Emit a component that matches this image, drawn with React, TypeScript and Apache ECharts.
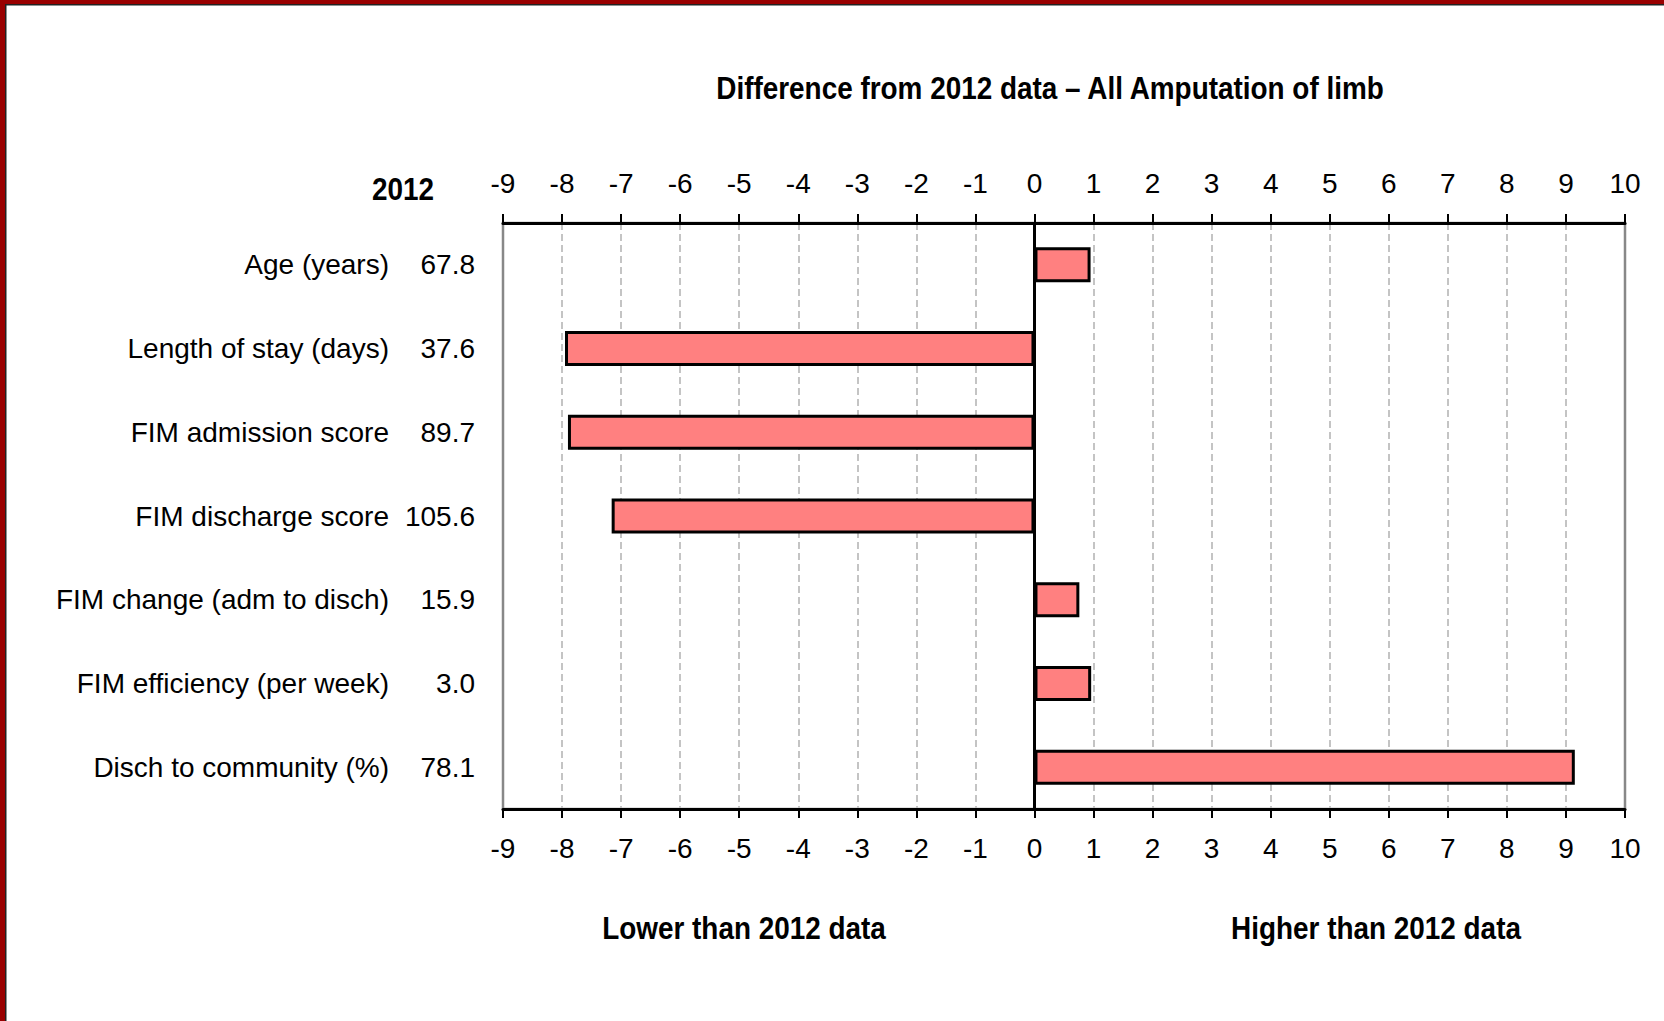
import React, { useEffect, useRef } from "react";
import * as echarts from "echarts";

const titleText = "Difference from 2012 data \u2013 All Amputation of limb";
const headerText = "2012";
const lowerText = "Lower than 2012 data";
const higherText = "Higher than 2012 data";

const categories = [
  "Age (years)",
  "Length of stay (days)",
  "FIM admission score",
  "FIM discharge score",
  "FIM change (adm to disch)",
  "FIM efficiency (per week)",
  "Disch to community (%)",
];
const values2012 = ["67.8", "37.6", "89.7", "105.6", "15.9", "3.0", "78.1"];
const differences = [0.95, -7.95, -7.9, -7.16, 0.76, 0.96, 9.15];

const axisMin = -9;
const axisMax = 10;
const axisStep = 1;

const FONT = '"Liberation Sans", Arial, sans-serif';

export default function App() {
  const ref = useRef<HTMLDivElement>(null);

  useEffect(() => {
    document.body.style.margin = "0";
    if (!ref.current) return;
    const chart = echarts.init(ref.current, null, { renderer: "svg" });

    const xAxisBase = {
      type: "value" as const,
      min: axisMin,
      max: axisMax,
      interval: axisStep,
      axisLine: { show: true, onZero: false, lineStyle: { color: "#000", width: 3 } },
      axisTick: { show: true, inside: false, length: 9, lineStyle: { color: "#000", width: 2 } },
      axisLabel: { color: "#000", fontSize: 28, fontFamily: FONT, margin: 26 },
    };

    const boldText = (text: string, x: number, y: number, align: string) => ({
      type: "text",
      x,
      y,
      scaleX: 0.9,
      style: {
        text,
        fontSize: 31,
        fontWeight: "bold",
        fontFamily: FONT,
        fill: "#000",
        align,
        verticalAlign: "middle",
      },
    });

    chart.setOption({
      animation: false,
      backgroundColor: "#fff",
      textStyle: { fontFamily: FONT },
      grid: {
        left: 503,
        right: 39,
        top: 223,
        bottom: 212,
        show: true,
        borderColor: "#888888",
        borderWidth: 2.5,
        backgroundColor: "transparent",
        containLabel: false,
      },
      xAxis: [
        {
          ...xAxisBase,
          position: "top",
          splitLine: { show: false },
        },
        {
          ...xAxisBase,
          position: "bottom",
          axisLabel: { ...xAxisBase.axisLabel, margin: 25 },
          splitLine: {
            show: true,
            showMinLine: false,
            showMaxLine: false,
            lineStyle: { color: "#c4c4c4", width: 2, type: [7, 4] },
          },
        },
      ],
      yAxis: {
        type: "category",
        data: categories,
        inverse: true,
        axisLine: { show: false },
        axisTick: { show: false },
        splitLine: { show: false },
        axisLabel: {
          margin: 28,
          formatter: (value: string, index: number) => `{n|${value}}{v|${values2012[index]}}`,
          rich: {
            n: { width: 390, align: "right", fontSize: 28, fontFamily: FONT, color: "#000" },
            v: { width: 86, align: "right", fontSize: 28, fontFamily: FONT, color: "#000" },
          },
        },
      },
      series: [
        {
          type: "bar",
          xAxisIndex: 1,
          data: differences,
          barWidth: 35,
          itemStyle: { color: "#FF8080", borderColor: "#000", borderWidth: 3 },
          markLine: {
            silent: true,
            symbol: ["none", "none"],
            label: { show: false },
            lineStyle: { color: "#000", width: 3, type: "solid" },
            data: [{ xAxis: 0 }],
          },
        },
      ],
      graphic: [
        { type: "rect", shape: { x: 0, y: 0, width: 1664, height: 4 }, style: { fill: "#990000" }, z: 100 },
        { type: "rect", shape: { x: 0, y: 0, width: 5, height: 1021 }, style: { fill: "#990000" }, z: 100 },
        { type: "rect", shape: { x: 5, y: 4, width: 1659, height: 1.5 }, style: { fill: "#222" }, z: 100 },
        { type: "rect", shape: { x: 5, y: 4, width: 1.5, height: 1017 }, style: { fill: "#222" }, z: 100 },
        boldText(titleText, 1050, 88, "center"),
        boldText(headerText, 434, 189, "right"),
        boldText(lowerText, 744, 928, "center"),
        boldText(higherText, 1376, 928, "center"),
      ],
    });

    return () => chart.dispose();
  }, []);

  return <div ref={ref} style={{ width: 1664, height: 1021 }} />;
}
